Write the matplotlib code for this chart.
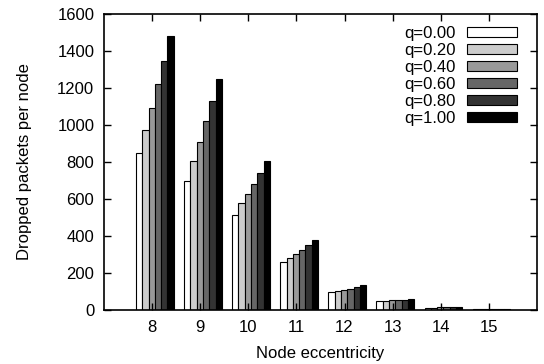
import matplotlib.pyplot as plt
import numpy as np

# Dropped packets per node vs node eccentricity, for several q values
eccentricity = [8, 9, 10, 11, 12, 13, 14, 15]
q_labels = ["q=0.00", "q=0.20", "q=0.40", "q=0.60", "q=0.80", "q=1.00"]
dropped = [
    [846, 700, 511, 258, 99, 47, 12, 5],     # q=0.00
    [972, 808, 576, 282, 104, 50, 13, 5],    # q=0.20
    [1090, 907, 629, 304, 110, 53, 14, 6],   # q=0.40
    [1220, 1021, 683, 322, 116, 55, 15, 6],  # q=0.60
    [1345, 1130, 743, 349, 125, 56, 15, 6],  # q=0.80
    [1482, 1249, 808, 381, 133, 60, 14, 6],  # q=1.00
]
fills = ["#ffffff", "#cccccc", "#999999", "#666666", "#333333", "#000000"]

plt.rcParams['font.family'] = ['Liberation Sans', 'DejaVu Sans']

fig = plt.figure(figsize=(5.44, 3.64), dpi=100)
ax = fig.add_axes([104 / 544, 1 - 310 / 364, (537 - 104) / 544, (310 - 14) / 364])

x = np.array(eccentricity, dtype=float)
width = 0.131
start = -0.337
for i, (vals, col, lab) in enumerate(zip(dropped, fills, q_labels)):
    ax.bar(x + start + i * width, vals, width=width, align='edge',
           color=col, edgecolor='black', linewidth=0.8, label=lab)

ax.set_xlim(7, 16)
ax.set_ylim(0, 1600)
ax.set_xticks(eccentricity)
ax.set_yticks(np.arange(0, 1601, 200))
ax.tick_params(direction='in', length=5, width=1, top=True, right=True,
               labelsize=12, pad=7, color='black')
for s in ax.spines.values():
    s.set_linewidth(1.2)

ax.set_xlabel("Node eccentricity", fontsize=12, labelpad=8)
ax.set_ylabel("Dropped packets per node", fontsize=12, labelpad=18)

leg = ax.legend(loc='upper right', frameon=False, markerfirst=False,
                fontsize=12, handlelength=3.0, handleheight=0.5,
                labelspacing=0.12, handletextpad=0.65,
                borderaxespad=0.3, bbox_to_anchor=(0.98, 1.0))
for t in leg.get_texts():
    t.set_ha('right')

fig.savefig("out.png", dpi=100)
